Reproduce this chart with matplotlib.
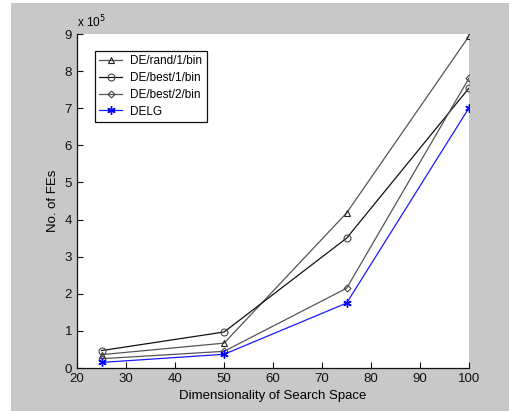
import matplotlib.pyplot as plt
from matplotlib.patches import Rectangle

# данные (число FEs в единицах 10^5)
dims = [25, 50, 75, 100]
de_rand_1 = [0.36, 0.67, 4.18, 8.95]
de_best_1 = [0.47, 0.97, 3.50, 7.55]
de_best_2 = [0.25, 0.45, 2.15, 7.82]
delg = [0.15, 0.37, 1.75, 7.02]

plt.rcParams['font.family'] = ['Liberation Sans', 'DejaVu Sans']

fig = plt.figure(figsize=(5.10, 4.11), dpi=100, facecolor='white')
# серый фон как в MATLAB
bg = Rectangle((11 / 510, 0), 1, 408 / 411, transform=fig.transFigure,
               facecolor='#c8c8c8', edgecolor='none', zorder=-10)
fig.add_artist(bg)

ax = fig.add_axes([0.151, 0.1046, 0.769, 0.8126])
ax.set_facecolor('white')

ax.plot(dims, de_rand_1, color='#555555', lw=0.9, marker='^', ms=4.5,
        mfc='none', mec='#222222', mew=0.8, label='DE/rand/1/bin')
ax.plot(dims, de_best_1, color='#111111', lw=0.9, marker='o', ms=5,
        mfc='none', mec='#444444', mew=0.8, label='DE/best/1/bin')
ax.plot(dims, de_best_2, color='#555555', lw=0.9, marker='D', ms=3.5,
        mfc='none', mec='#444444', mew=0.8, label='DE/best/2/bin')
ax.plot(dims, delg, color='#1a1aff', lw=0.9, marker=(6, 2, 0), ms=6,
        mfc='#0000ff', mec='#0000ff', mew=1.0, label='DELG')

ax.set_xlim(20, 100)
ax.set_ylim(0, 9)
ax.set_xticks(range(20, 101, 10))
ax.set_yticks(range(0, 10))
ax.tick_params(direction='in', length=4, width=0.8, labelsize=9.5, colors='#111111')

for s in ['top', 'right']:
    ax.spines[s].set_visible(False)
for s in ['left', 'bottom']:
    ax.spines[s].set_linewidth(0.9)
    ax.spines[s].set_color('#111111')

ax.set_xlabel('Dimensionality of Search Space', fontsize=9.5, labelpad=4)
ax.set_ylabel('No. of FEs', fontsize=9.5, labelpad=4)
ax.text(0.0, 1.012, 'x 10$^5$', transform=ax.transAxes, fontsize=8.5, va='bottom')

leg = ax.legend(loc='upper left', bbox_to_anchor=(0.045, 0.95), fontsize=8.5,
                fancybox=False, framealpha=1, edgecolor='#111111',
                borderpad=0.4, labelspacing=0.4, handlelength=1.9,
                handletextpad=0.7, borderaxespad=0)
leg.get_frame().set_linewidth(0.9)

fig.savefig('out.png', dpi=100, facecolor=fig.get_facecolor())
